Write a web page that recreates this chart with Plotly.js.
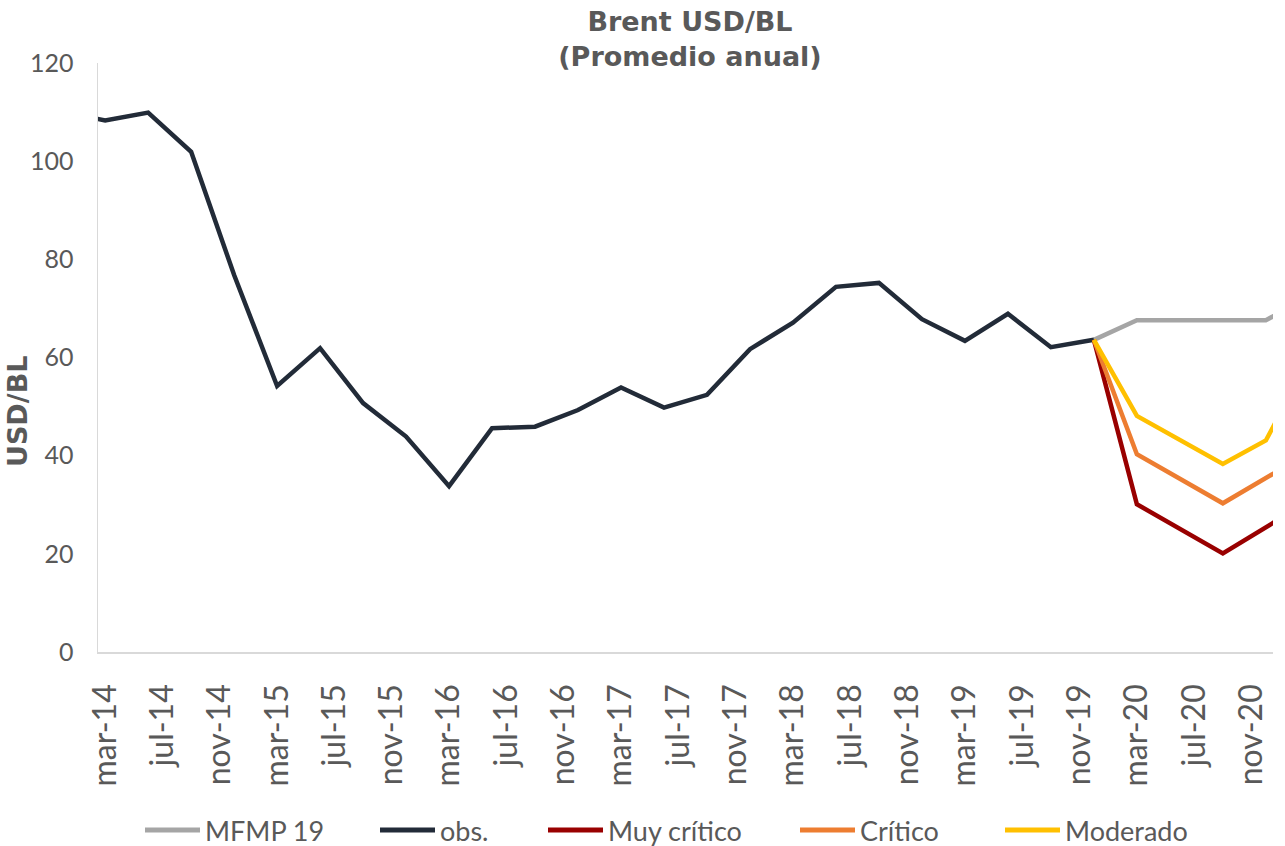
<!DOCTYPE html>
<html>
<head>
<meta charset="utf-8">
<script src="https://cdn.plot.ly/plotly-3.0.1.min.js"></script>
<style>html,body{margin:0;padding:0;background:#fff;}#chart{width:1285px;height:846px;}</style>
</head>
<body>
<div id="chart"></div>
<script>
// ---- data ----
const monthNames = ['ene','feb','mar','abr','may','jun','jul','ago','sep','oct','nov','dic'];

const tickLabels = ['mar-14','jul-14','nov-14','mar-15','jul-15','nov-15','mar-16','jul-16','nov-16',
  'mar-17','jul-17','nov-17','mar-18','jul-18','nov-18','mar-19','jul-19','nov-19','mar-20','jul-20','nov-20'];

const obsPeriods = ['dic-13','mar-14','jun-14','sep-14','dic-14','mar-15','jun-15','sep-15','dic-15',
  'mar-16','jun-16','sep-16','dic-16','mar-17','jun-17','sep-17','dic-17','mar-18','jun-18','sep-18','dic-18',
  'mar-19','jun-19','sep-19','dic-19'];
const obsValues = [110.0,108.3,109.9,101.9,76.8,54.2,61.9,50.7,43.9,
  33.8,45.6,45.9,49.3,53.9,49.8,52.4,61.7,67.1,74.4,75.2,67.8,
  63.4,68.9,62.1,63.6];

const mfmpPeriods = ['dic-19','mar-20','dic-20','mar-21'];
const mfmpValues = [63.6,67.6,67.6,72.3];

const scenarioPeriods = ['dic-19','mar-20','sep-20','dic-20','mar-21'];
const muyCriticoValues = [63.6,30.1,20.1,25.4,30.7];
const criticoValues = [63.6,40.3,30.3,35.4,40.6];
const moderadoValues = [63.6,48.1,38.3,43.1,59.5];

const seriesNames = ['MFMP 19','obs.','Muy crítico','Crítico','Moderado'];
const seriesColors = ['#A5A5A5','#222B38','#990000','#ED7D31','#FFC000'];

// ---- helpers ----
function monthIndex(label){
  const parts = label.split('-');
  const m = monthNames.indexOf(parts[0]);
  const y = 2000 + parseInt(parts[1],10);
  return (y*12 + m) - (2014*12 + 2);
}

const W = 1285, H = 846;
const M = {l:98, r:12, t:63, b:194};
const plotW = W - M.l - M.r, plotH = H - M.t - M.b;
function px2x(px){ return (px - M.l)/plotW; }
function py2y(py){ return (H - M.b - py)/plotH; }

const FONT = 'Lato, "Open Sans", sans-serif';
const BOLDFONT = '"DejaVu Sans", Lato, sans-serif';
const TXT = '#595959';

const seriesData = [
  {periods: mfmpPeriods, values: mfmpValues},
  {periods: obsPeriods, values: obsValues},
  {periods: scenarioPeriods, values: muyCriticoValues},
  {periods: scenarioPeriods, values: criticoValues},
  {periods: scenarioPeriods, values: moderadoValues}
];

const traces = seriesData.map((s,i)=>({
  type:'scatter', mode:'lines', name: seriesNames[i],
  x: s.periods.map(monthIndex), y: s.values,
  line:{color: seriesColors[i], width:4.5},
  showlegend:false, hoverinfo:'x+y'
}));

// custom legend (positions in pixels)
const legendStarts = [145,380,548,800,1005];
const legendLen = 55, legendY = 830;
const shapes = [], annotations = [];
seriesNames.forEach((n,i)=>{
  shapes.push({type:'line', xref:'paper', yref:'paper',
    x0: px2x(legendStarts[i]), x1: px2x(legendStarts[i]+legendLen),
    y0: py2y(legendY), y1: py2y(legendY),
    line:{color: seriesColors[i], width:5}});
  annotations.push({xref:'paper', yref:'paper', x: px2x(legendStarts[i]+legendLen+3), y: py2y(legendY),
    xanchor:'left', yanchor:'middle', showarrow:false, text:n,
    font:{family:FONT, size:27, color:TXT}});
});
annotations.push({xref:'paper', yref:'paper', x: px2x(18), y: py2y(412), textangle:-90,
  xanchor:'center', yanchor:'middle', showarrow:false, text:'USD/BL',
  font:{family:BOLDFONT, size:27, color:TXT, weight:700}});

const layout = {
  width:W, height:H, margin:M,
  paper_bgcolor:'#ffffff', plot_bgcolor:'#ffffff',
  title:{text:'Brent USD/BL<br>(Promedio anual)', xref:'paper', x:px2x(690), xanchor:'center',
    yref:'container', y:1-31/H, yanchor:'middle',
    font:{family:BOLDFONT, size:27, color:TXT, weight:700}},
  xaxis:{type:'linear', range:[-0.5,81.5], tickmode:'array',
    tickvals: tickLabels.map(monthIndex), ticktext: tickLabels,
    tickangle:-90, showgrid:false, zeroline:false, showline:true,
    linecolor:'#D9D9D9', linewidth:1.5, ticks:'', ticklabelstandoff:18,
    tickfont:{family:FONT, size:32, color:TXT}},
  yaxis:{range:[0,120], dtick:20, tick0:0, showgrid:false, zeroline:false, showline:true,
    linecolor:'#D9D9D9', linewidth:1.5, ticks:'', ticklabelstandoff:18,
    tickfont:{family:FONT, size:25, color:TXT}},
  shapes, annotations, showlegend:false
};

Plotly.newPlot('chart', traces, layout, {displayModeBar:false, staticPlot:true});
</script>
</body>
</html>
